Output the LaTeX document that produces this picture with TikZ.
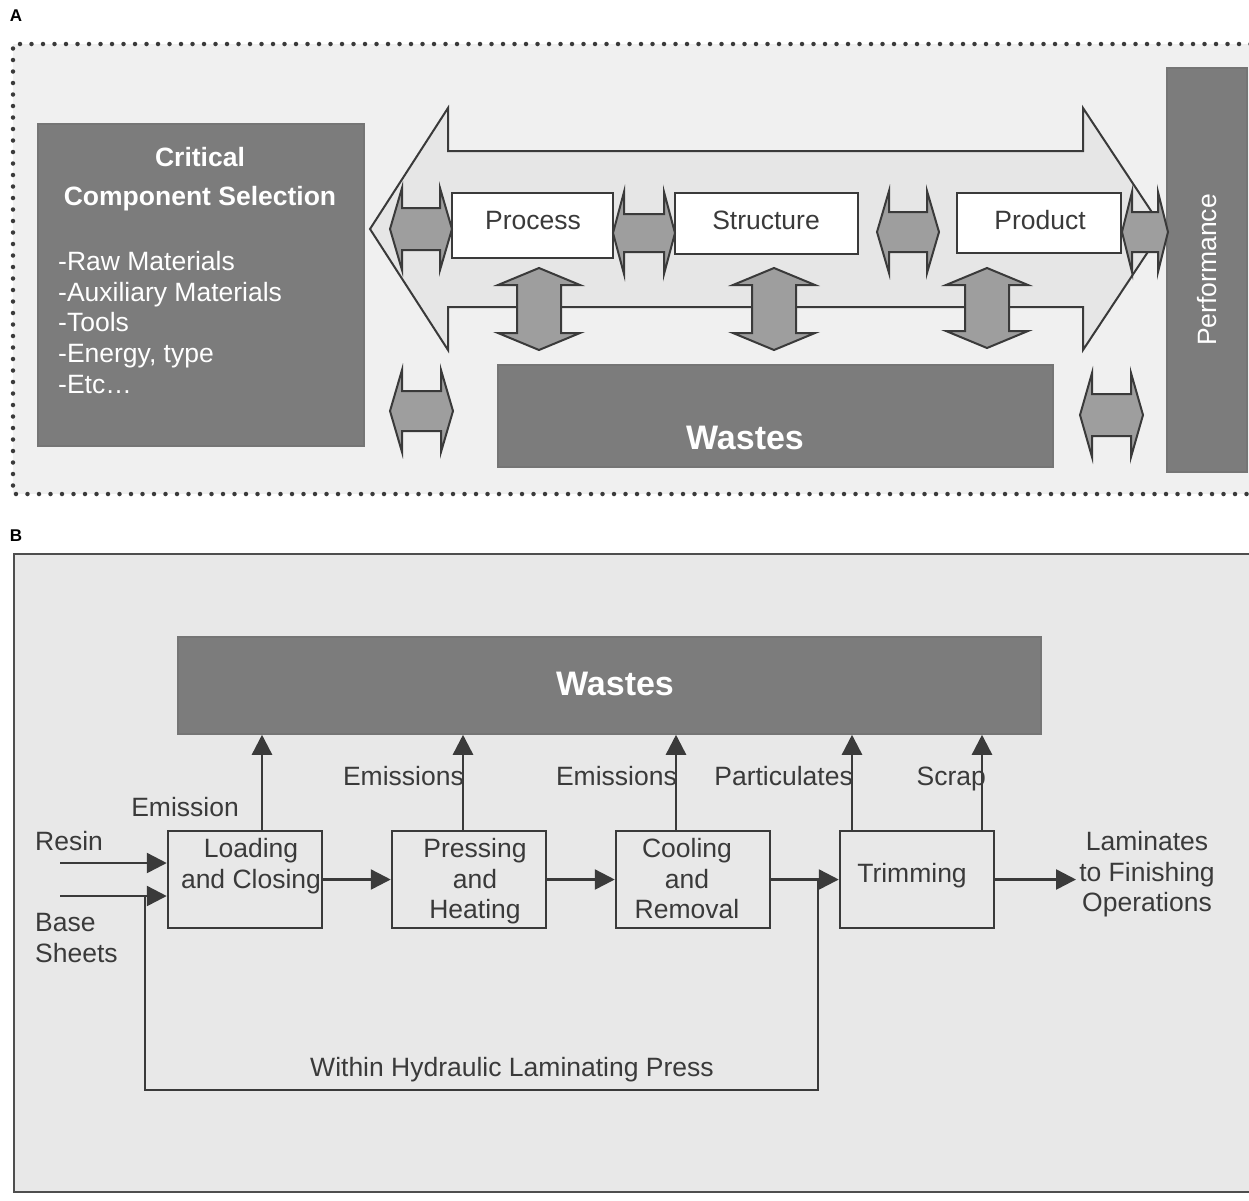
\documentclass[tikz,border=0pt]{standalone}
\usepackage{fontspec}
\setmainfont{Liberation Sans}
\usetikzlibrary{arrows.meta}
\definecolor{boxgray}{HTML}{7C7C7C}
\definecolor{bgA}{HTML}{F0F0F0}
\definecolor{bgB}{HTML}{E8E8E8}
\definecolor{bigfill}{HTML}{E6E6E6}
\definecolor{smallfill}{HTML}{9E9E9E}
\definecolor{ink}{HTML}{3A3A3A}
\newcommand{\hdarr}[6]{%
 \draw[smallarr] (#1,#3) -- ({#1+#6},{#3-#4}) -- ({#1+#6},{#3-#5}) -- ({#2-#6},{#3-#5}) -- ({#2-#6},{#3-#4}) -- (#2,#3) -- ({#2-#6},{#3+#4}) -- ({#2-#6},{#3+#5}) -- ({#1+#6},{#3+#5}) -- ({#1+#6},{#3+#4}) -- cycle;}
\newcommand{\vdarr}[6]{%
 \draw[smallarr] (#1,#2) -- ({#1+#4},{#2+#6}) -- ({#1+#5},{#2+#6}) -- ({#1+#5},{#3-#6}) -- ({#1+#4},{#3-#6}) -- (#1,#3) -- ({#1-#4},{#3-#6}) -- ({#1-#5},{#3-#6}) -- ({#1-#5},{#2+#6}) -- ({#1-#4},{#2+#6}) -- cycle;}
\tikzset{
  txt/.style={inner sep=0pt, font=\fontsize{26.5}{30.5}\selectfont, text=ink},
  wtxt/.style={inner sep=0pt, font=\fontsize{26.5}{30.5}\selectfont, text=white},
  wbold/.style={inner sep=0pt, font=\fontsize{26.5}{30.5}\selectfont\bfseries, text=white},
  darkbox/.style={draw=ink!70, line width=1.5pt, fill=boxgray, inner sep=0pt},
  whitebox/.style={draw=ink, line width=2pt, fill=white, inner sep=0pt},
  procbox/.style={draw=ink, line width=2.5pt, fill=bgB, inner sep=0pt, minimum width=154pt, minimum height=97pt},
  smallarr/.style={draw=ink, line width=2pt, fill=smallfill, line join=miter},
  flow/.style={draw=ink, line width=2.5pt, -{Triangle[length=20pt,width=20pt]}},
  plain/.style={draw=ink, line width=2.5pt},
}
\begin{document}
\begin{tikzpicture}[x=1pt,y=-1pt]
\useasboundingbox (0,0) rectangle (1249,1200);
\fill[white] (0,0) rectangle (1249,1200);
% ---------- Panel A ----------
\node[inner sep=0pt, anchor=base, font=\fontsize{17}{20}\selectfont\bfseries, text=black] (labA) at (16,21) {A};
\fill[bgA] (13,44) rectangle (1262,494);
\draw[ink, line width=4.5pt, line cap=round, dash pattern=on 0pt off 11.5pt] (1262,44) -- (13,44) -- (13,494) -- (1262,494);
% big double arrow
\draw[draw=ink, line width=2pt, fill=bigfill, line join=miter]
  (370,229) -- (448,108) -- (448,151) -- (1083,151) -- (1083,108) -- (1163,229)
  -- (1083,350) -- (1083,307) -- (448,307) -- (448,350) -- cycle;
% critical box
\node[darkbox, minimum width=326pt, minimum height=322pt] (crit) at (201,285) {};
\node[wbold, anchor=base] (critA) at (200,166.5) {Critical};
\node[wbold, anchor=base] (critB) at (200,205.5) {Component Selection};
\node[wtxt, anchor=base west] (l1) at (58,270.5) {-Raw Materials};
\node[wtxt, anchor=base west] (l2) at (58,301.5) {-Auxiliary Materials};
\node[wtxt, anchor=base west] (l3) at (58,331.5) {-Tools};
\node[wtxt, anchor=base west] (l4) at (58,362.5) {-Energy, type};
\node[wtxt, anchor=base west] (l5) at (58,393.5) {-Etc\ldots};
% process structure product
\node[whitebox, minimum width=161pt, minimum height=65pt] (proc) at (532.5,225.5) {};
\node[txt, anchor=base] (procT) at (533,229) {Process};
\node[whitebox, minimum width=183pt, minimum height=61pt] (struc) at (766.5,223.5) {};
\node[txt, anchor=base] (strucT) at (766,229) {Structure};
\node[whitebox, minimum width=164pt, minimum height=60pt] (prod) at (1039,223) {};
\node[txt, anchor=base] (prodT) at (1040,229) {Product};
% wastes A
\node[darkbox, minimum width=555pt, minimum height=102pt] (wasteA) at (775.5,416) {};
\node[inner sep=0pt, anchor=base, font=\fontsize{34}{38}\selectfont\bfseries, text=white] (wasteAT) at (745,449) {Wastes};
% performance
\node[darkbox, minimum width=80pt, minimum height=404pt] (perf) at (1207,270) {};
\node[wtxt, rotate=90] (perfT) at (1207,270) {Performance};
% small arrows
\hdarr{390}{452}{229}{41}{21}{12}
\hdarr{613}{675}{233}{41}{19}{11}
\hdarr{877}{939}{232}{41}{20}{12}
\hdarr{1122}{1168}{232}{40}{20}{10}
\hdarr{390}{453}{411}{41}{20}{12}
\hdarr{1080}{1143}{415}{42}{21}{12}
\vdarr{539}{268}{350}{41}{22}{17}
\vdarr{774}{268}{350}{41}{22}{17}
\vdarr{987}{268}{348}{41}{22}{17}
% ---------- Panel B ----------
\node[inner sep=0pt, anchor=base, font=\fontsize{17}{20}\selectfont\bfseries, text=black] (labB) at (16,541) {B};
\draw[draw=ink!90, line width=2pt, fill=bgB] (14,554) rectangle (1262,1192);
\node[darkbox, minimum width=863pt, minimum height=97pt] (wasteB) at (609.5,685.5) {};
\node[inner sep=0pt, anchor=base, font=\fontsize{34}{38}\selectfont\bfseries, text=white] (wasteBT) at (615,695) {Wastes};
\node[procbox] (load) at (245,879.5) {};
\node[procbox] (press) at (469,879.5) {};
\node[procbox] (cool) at (693,879.5) {};
\node[procbox] (trim) at (917,879.5) {};
\node[txt, anchor=base] (loadA) at (251,857.5) {Loading};
\node[txt, anchor=base] (loadB) at (251,888.5) {and Closing};
\node[txt, anchor=base] (pressA) at (475,857.5) {Pressing};
\node[txt, anchor=base] (pressB) at (475,888.5) {and};
\node[txt, anchor=base] (pressC) at (475,918.5) {Heating};
\node[txt, anchor=base] (coolA) at (687,857.5) {Cooling};
\node[txt, anchor=base] (coolB) at (687,888.5) {and};
\node[txt, anchor=base] (coolC) at (687,918.5) {Removal};
\node[txt, anchor=base] (trimT) at (912,882.5) {Trimming};
% waste arrows
\draw[flow] (load.north -| 262,0) -- (wasteB.south -| 262,0);
\draw[flow] (press.north -| 463,0) -- (wasteB.south -| 463,0);
\draw[flow] (cool.north -| 676,0) -- (wasteB.south -| 676,0);
\draw[flow] (trim.north -| 852,0) -- (wasteB.south -| 852,0);
\draw[flow] (trim.north -| 982,0) -- (wasteB.south -| 982,0);
\node[txt, anchor=base] (em1) at (185,816.5) {Emission};
\node[txt, anchor=base east] (em2) at (464,785.5) {Emissions};
\node[txt, anchor=base east] (em3) at (677,785.5) {Emissions};
\node[txt, anchor=base east] (part) at (853,785.5) {Particulates};
\node[txt, anchor=base east] (scrap) at (986,785.5) {Scrap};
% inputs
\node[txt, anchor=base west] (resin) at (35,850.5) {Resin};
\node[txt, anchor=base west] (base1) at (35,931.5) {Base};
\node[txt, anchor=base west] (base2) at (35,962.5) {Sheets};
\coordinate (rs) at (60,863);
\coordinate (bs) at (60,896);
\draw[flow] (rs) -- (load.west |- rs);
\draw[flow] (bs) -- (load.west |- bs);
% chain
\draw[flow] (load) -- (press);
\draw[flow] (press) -- (cool);
\draw[flow] (cool) -- (trim);
\coordinate (j) at (818,879.5);
\coordinate (lc) at (145,896);
\draw[plain] (j) -- (818,1090) -- (145,1090) -- (lc);
\node[txt, anchor=base] (within) at (512,1076.5) {Within Hydraulic Laminating Press};
% output
\node[txt, anchor=base] (lamA) at (1147,850.5) {Laminates};
\node[txt, anchor=base] (lamB) at (1147,881.5) {to Finishing};
\node[txt, anchor=base] (lamC) at (1147,911.5) {Operations};
\coordinate (lamin) at (1076,879.5);
\draw[flow] (trim) -- (lamin);
\end{tikzpicture}
\end{document}
